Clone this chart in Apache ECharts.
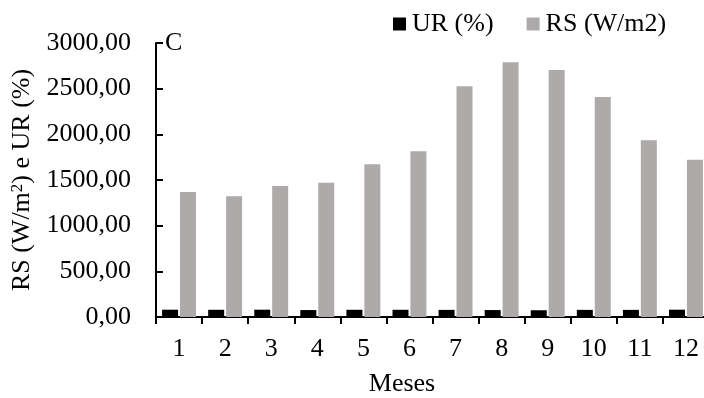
<!DOCTYPE html>
<html>
<head>
<meta charset="utf-8">
<script src="https://cdn.jsdelivr.net/npm/echarts@6/dist/echarts.min.js"></script>
<style>
html,body{margin:0;padding:0;background:#fff;}
#chart{width:704px;height:398px;}
</style>
</head>
<body>
<div id="chart"></div>
<script>
var months = ['1','2','3','4','5','6','7','8','9','10','11','12'];
var urValues = [80, 79, 80, 76, 79, 79, 78, 76, 74, 78, 78, 80];
var rsValues = [1369, 1321, 1434, 1471, 1672, 1814, 2526, 2789, 2704, 2409, 1935, 1723];
var yTicks = {min: 0, max: 3000, interval: 500};

var FONT = 'Liberation Serif';
var FS = 26;
var chart = echarts.init(document.getElementById('chart'), null, {renderer: 'canvas'});
chart.setOption({
  animation: false,
  backgroundColor: '#ffffff',
  textStyle: {fontFamily: FONT, color: '#000'},
  grid: {left: 156, top: 43, bottom: 81, right: -5, containLabel: false, outerBoundsMode: 'none'},
  legend: {
    left: 393, top: 11, padding: 0, itemGap: 33,
    itemWidth: 13, itemHeight: 13, icon: 'rect',
    textStyle: {fontFamily: FONT, fontSize: FS, color: '#000', padding: [0, 0, 0, 1]},
    data: ['UR (%)', 'RS (W/m2)']
  },
  xAxis: {
    type: 'category',
    data: months,
    axisLine: {lineStyle: {color: '#000', width: 2}},
    axisTick: {show: true, length: 7, inside: false, lineStyle: {color: '#000', width: 2}},
    axisLabel: {fontFamily: FONT, fontSize: FS, color: '#000', margin: 19},
    splitLine: {show: false}
  },
  yAxis: {
    type: 'value',
    min: yTicks.min, max: yTicks.max, interval: yTicks.interval,
    axisLine: {show: true, lineStyle: {color: '#000', width: 2}},
    axisTick: {show: true, inside: true, length: 7, lineStyle: {color: '#000', width: 2}},
    axisLabel: {
      fontFamily: FONT, fontSize: FS, color: '#000', margin: 25,
      formatter: function (v) { return v.toFixed(2).replace('.', ','); }
    },
    splitLine: {show: false},
    name: '{a|RS (W/m}{s|2}{a|) e UR (%)}',
    nameLocation: 'middle',
    nameRotate: 90,
    nameGap: 121,
    nameTextStyle: {
      fontFamily: FONT, color: '#000',
      rich: {
        a: {fontFamily: FONT, fontSize: FS, color: '#000'},
        s: {fontFamily: FONT, fontSize: 17, color: '#000', verticalAlign: 'top', padding: [0, 0, 9, 0]}
      }
    }
  },
  series: [
    {
      name: 'UR (%)', type: 'bar', data: urValues,
      barWidth: 16, barGap: '12%',
      itemStyle: {color: '#000000'}
    },
    {
      name: 'RS (W/m2)', type: 'bar', data: rsValues,
      barWidth: 16, barGap: '12%',
      itemStyle: {color: '#AEAAAA'}
    }
  ],
  graphic: [
    {type: 'text', x: 165, y: 43, z: 100, style: {text: 'C', fontFamily: FONT, fontSize: FS, fill: '#000', verticalAlign: 'middle'}},
    {type: 'text', x: 402, y: 384, style: {text: 'Meses', fontFamily: FONT, fontSize: FS, fill: '#000', align: 'center', verticalAlign: 'middle'}}
  ]
});
</script>
</body>
</html>
